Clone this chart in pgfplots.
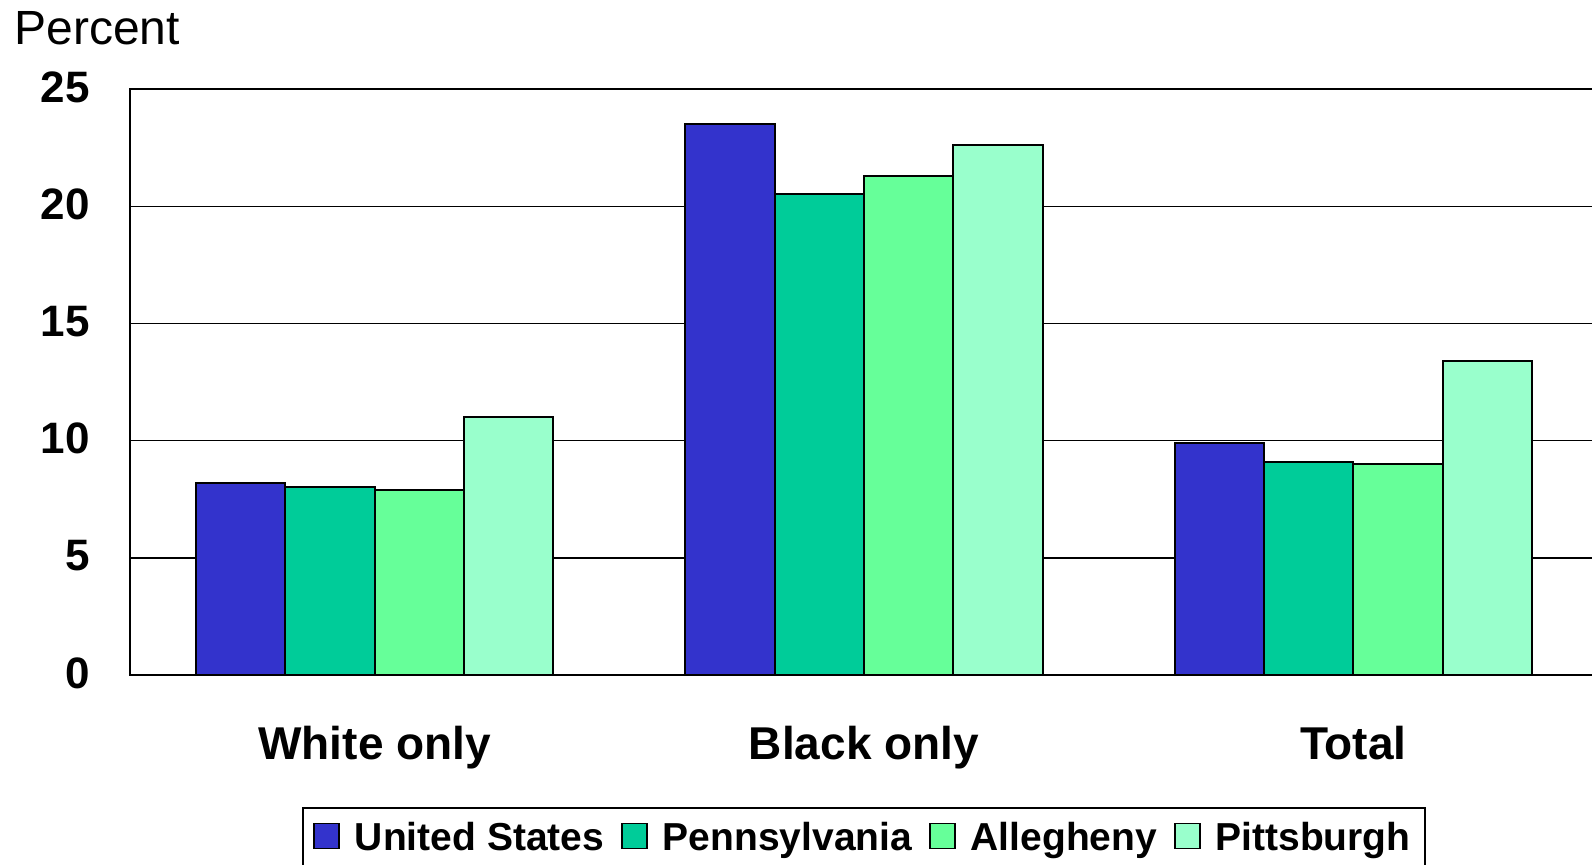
\documentclass[border=0pt]{standalone}
\usepackage{fontspec}
\setmainfont{Liberation Sans}
\usepackage{pgfplots}
\pgfplotsset{compat=1.18}

\definecolor{cUS}{HTML}{3333CC}
\definecolor{cPA}{HTML}{00CC99}
\definecolor{cAL}{HTML}{66FF99}
\definecolor{cPI}{HTML}{99FFCC}

\begin{document}
\begin{tikzpicture}
\begin{axis}[
    scale only axis,
    width=734pt, height=293pt,
    xmin=-0.5, xmax=2.5,
    ymin=0, ymax=25,
    ybar=0pt,
    bar width=0.1825,
    xtick={0,1,2},
    xticklabels={White only,Black only,Total},
    ytick={0,5,...,25},
    major tick length=0pt,
    ymajorgrids,
    grid style={black, line width=0.7pt},
    axis line style={black, line width=1pt},
    /pgf/number format/assume math mode=true,
    yticklabel style={font=\fontsize{22}{26}\selectfont\bfseries, inner sep=0pt, xshift=-20pt, yshift=1pt},
    xticklabel style={font=\fontsize{23}{28}\selectfont\bfseries, anchor=base, inner sep=0pt, yshift=-42pt},
    legend columns=4,
    legend style={at={(0.5,0)}, anchor=north, yshift=-66pt, draw=black, line width=1pt,
        font=\fontsize{19.5}{23}\selectfont\bfseries,
        inner xsep=5pt, inner ysep=5pt,
        /tikz/every odd column/.append style={column sep=5.5pt},
        /tikz/every even column/.append style={column sep=6.5pt}},
    legend image code/.code={\draw[#1, draw=black, line width=0.8pt] (0pt,-5.5pt) rectangle (12.5pt,7pt);},
]
\addplot[fill=cUS, draw=black, line width=1pt] coordinates {(0,8.2) (1,23.5) (2,9.9)};
\addplot[fill=cPA, draw=black, line width=1pt] coordinates {(0,8.0) (1,20.5) (2,9.1)};
\addplot[fill=cAL, draw=black, line width=1pt] coordinates {(0,7.9) (1,21.3) (2,9.0)};
\addplot[fill=cPI, draw=black, line width=1pt] coordinates {(0,11.0) (1,22.6) (2,13.4)};
\legend{United States, Pennsylvania, Allegheny, Pittsburgh}
\end{axis}
\node[anchor=base west, inner sep=0pt, font=\fontsize{24}{28}\selectfont] at (-58pt,315pt) {Percent};
\pgfresetboundingbox
\useasboundingbox (-65pt,-94.5pt) rectangle (731pt,337.5pt);
\end{tikzpicture}
\end{document}
